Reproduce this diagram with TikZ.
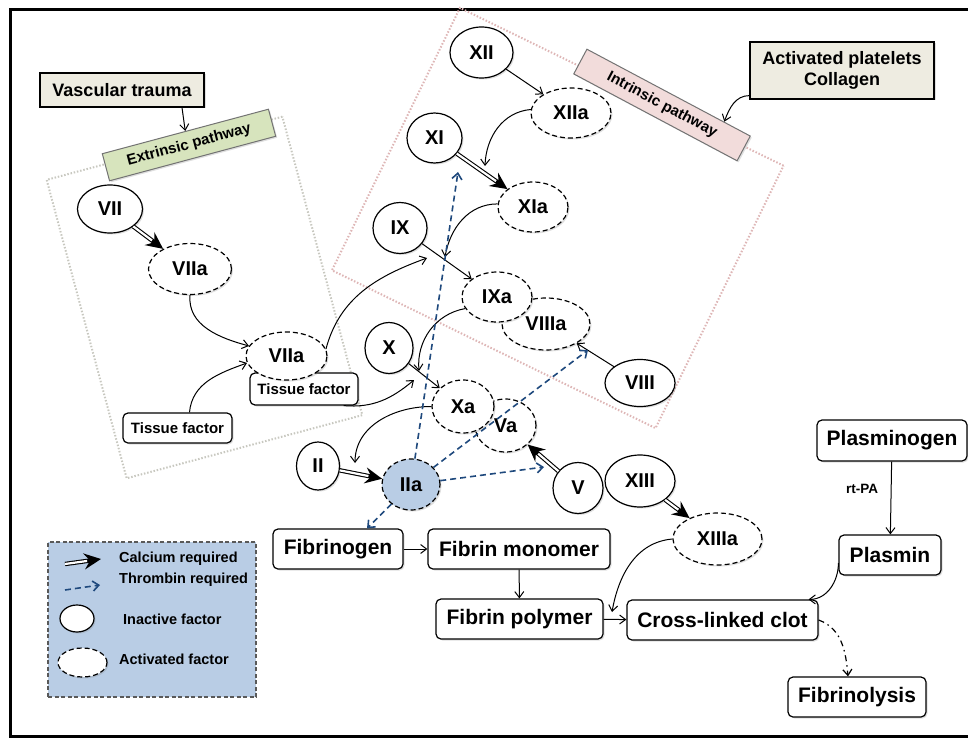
\documentclass[tikz,border=0pt]{standalone}
\usepackage{fontspec}
\setmainfont{Liberation Sans}
\usetikzlibrary{shapes.geometric,arrows.meta,shadows}

\definecolor{thblue}{RGB}{31,73,125}
\definecolor{lblue}{RGB}{185,205,229}
\definecolor{lgreen}{RGB}{215,228,189}
\definecolor{lpink}{RGB}{242,220,219}
\definecolor{lbeige}{RGB}{238,236,225}
\definecolor{dotgray}{RGB}{200,200,192}
\definecolor{dotpink}{RGB}{222,182,182}

\begin{document}
\begin{tikzpicture}[x=1pt, y=1pt,
		shad/.style={drop shadow={shadow xshift=1.5pt, shadow yshift=-1.5pt, opacity=0.25}},
		fac/.style={ellipse, draw, line width=1.2pt, fill=white, inner sep=0pt, shad,
			font=\fontsize{20}{22}\selectfont\bfseries},
		afac/.style={fac, dash pattern=on 5pt off 3pt},
		rbox/.style={rectangle, draw, line width=1.2pt, rounded corners=5pt, fill=white, inner sep=0pt, shad,
			font=\fontsize{21}{24}\selectfont\bfseries},
		sbox/.style={rbox, font=\fontsize{15}{17}\selectfont\bfseries},
		tbox/.style={rectangle, draw, line width=1.2pt, fill=lbeige, inner sep=0pt, align=center, shad,
			font=\fontsize{18}{21}\selectfont\bfseries},
		plab/.style={rectangle, draw=black!55, line width=1pt, inner sep=0pt, shad, minimum height=28pt,
			font=\fontsize{15}{17}\selectfont\bfseries},
		ltxt/.style={anchor=west, inner sep=0pt, font=\fontsize{14.5}{16}\selectfont\bfseries},
		act/.style={line width=1pt, -{Straight Barb[length=6pt, width=9pt]}},
		ca/.style={line width=4.4pt, -{Stealth[length=17pt, width=16pt, inset=6pt]},
			postaction={draw=white, line width=2.2pt, -, shorten >=14pt}},
		thr/.style={draw=thblue, line width=1.6pt, dash pattern=on 6pt off 4pt, -{Straight Barb[length=6pt, width=10pt]}},
		fib/.style={line width=1.2pt, dash pattern=on 6pt off 4pt on 1.5pt off 4pt, -{Straight Barb[length=6pt, width=9pt]}}
	]
		\clip (0,0) rectangle (968,-738);
		\draw[line width=3pt] (10,-10) rectangle (985,-736);

		% 枠
		\node[draw=dotgray, line width=2pt, dash pattern=on 1.5pt off 1.8pt, rotate=15,
			minimum width=244pt, minimum height=309pt] (extbox) at (204.5,-297.5) {};
		\node[draw=dotpink, line width=2pt, dash pattern=on 1.5pt off 1.8pt, rotate=-26,
			minimum width=360pt, minimum height=292pt] (intbox) at (557.75,-218) {};
		\node[plab, fill=lgreen, rotate=15, minimum width=172pt] (extl) at (189,-145) {Extrinsic pathway};
		\node[plab, fill=lpink, rotate=-28, minimum width=185pt] (intl) at (662,-105) {Intrinsic pathway};
		\node[tbox, minimum width=164pt, minimum height=34pt] (vt) at (122,-90) {Vascular trauma};
		\node[tbox, minimum width=184pt, minimum height=57pt] (ap) at (842,-70.5) {Activated platelets\\Collagen};

		% 因子
		\node[fac, minimum width=65pt, minimum height=48pt] (VII) at (110,-209) {VII};
		\node[afac, minimum width=83pt, minimum height=51pt] (VIIa1) at (190,-269) {VIIa};
		\node[sbox, minimum width=108pt, minimum height=32pt] (tf2) at (304,-389) {Tissue factor};
		\node[afac, minimum width=81pt, minimum height=48pt] (VIIa2) at (286.5,-356) {VIIa};
		\node[sbox, minimum width=109pt, minimum height=30pt] (tf1) at (177.5,-428) {Tissue factor};
		\node[fac, minimum width=63pt, minimum height=51pt] (XII) at (481.5,-52.5) {XII};
		\node[afac, minimum width=80pt, minimum height=50pt] (XIIa) at (571,-113) {XIIa};
		\node[fac, minimum width=55pt, minimum height=50pt] (XI) at (434.5,-138) {XI};
		\node[afac, minimum width=70pt, minimum height=50pt] (XIa) at (533,-207) {XIa};
		\node[fac, minimum width=54pt, minimum height=51pt] (IX) at (400,-228) {IX};
		\node[afac, minimum width=88pt, minimum height=52pt] (VIIIa) at (546,-324) {VIIIa};
		\node[afac, minimum width=70pt, minimum height=50pt] (IXa) at (497,-297) {IXa};
		\node[fac, minimum width=70pt, minimum height=47pt] (VIII) at (640,-383) {VIII};
		\node[fac, minimum width=48pt, minimum height=51pt] (X) at (389,-348) {X};
		\node[afac, minimum width=61pt, minimum height=53pt] (Va) at (505.5,-425.5) {Va};
		\node[afac, minimum width=62pt, minimum height=53pt] (Xa) at (463,-406.5) {Xa};
		\node[fac, minimum width=43pt, minimum height=48pt] (II) at (318,-466) {II};
		\node[afac, fill=lblue, minimum width=58pt, minimum height=51pt] (IIa) at (411,-484.5) {IIa};
		\node[fac, minimum width=50pt, minimum height=51pt] (V) at (578,-488) {V};
		\node[fac, minimum width=70pt, minimum height=52pt] (XIII) at (640,-481) {XIII};
		\node[afac, minimum width=89pt, minimum height=52pt] (XIIIa) at (717.5,-539) {XIIIa};

		% フィブリン
		\node[rbox, minimum width=130pt, minimum height=40pt] (fbg) at (338,-549) {Fibrinogen};
		\node[rbox, minimum width=182pt, minimum height=40pt] (fmo) at (519,-549) {Fibrin monomer};
		\node[rbox, minimum width=167pt, minimum height=40pt] (fpo) at (519.5,-619) {Fibrin polymer};
		\node[rbox, minimum width=191pt, minimum height=40pt] (clot) at (722.5,-620) {Cross-linked clot};
		\node[rbox, minimum width=150pt, minimum height=41pt] (pgn) at (892,-440.5) {Plasminogen};
		\node[rbox, minimum width=102pt, minimum height=40pt] (pls) at (890,-555) {Plasmin};
		\node[rbox, minimum width=138pt, minimum height=40pt] (fly) at (857,-697) {Fibrinolysis};
		\node[inner sep=0pt, font=\fontsize{13.5}{15}\selectfont\bfseries] (rtpa) at (862,-489) {rt-PA};

		% 凡例
		\node[draw=black!65, fill=lblue, line width=2pt, dash pattern=on 4pt off 2.5pt, inner sep=0pt,
			minimum width=208pt, minimum height=155pt] (leg) at (152,-619.5) {};
		\coordinate (ca1) at (65,-564);
		\coordinate (ca2) at (101,-559);
		\coordinate (th1) at (65,-590);
		\coordinate (th2) at (100,-585);
		\node[fac, minimum width=34pt, minimum height=27pt] (lfac) at (77,-618.5) {};
		\node[afac, minimum width=49pt, minimum height=29pt] (lafac) at (82.5,-662.5) {};
		\node[ltxt] (lca) at (119,-559) {Calcium required};
		\node[ltxt] (lth) at (119,-580) {Thrombin required};
		\node[ltxt] (lin) at (123,-619) {Inactive factor};
		\node[ltxt] (lac) at (119,-659) {Activated factor};
		\draw[ca] (ca1) -- (ca2);
		\draw[thr] (th1) -- (th2);

		% 線を引く
		\draw[act] ([xshift=60pt]vt.south) -- (extl.north);
		\draw[act] ([yshift=4pt]ap.south west) to[out=180, in=70] (intl.13);

		\coordinate (xiT) at (485,-166);
		\coordinate (ixT) at (445,-257);
		\coordinate (ixT2) at (427,-258);
		\coordinate (xT) at (419,-371);
		\coordinate (xT2) at (414,-380);
		\coordinate (iiT) at (355,-463);
		\coordinate (clT) at (612,-612);

		\draw[act] (XII) -- (XIIa);
		\draw[ca] (XI) -- (XIa);
		\draw[act] (XIIa.175) to[out=185, in=88] (xiT);
		\draw[act] (IX) -- (IXa);
		\draw[act] (XIa.175) to[out=180, in=80] (ixT);
		\draw[act] (VIIa2.10) to[out=75, in=200] (ixT2);
		\draw[act] (X) -- (Xa);
		\draw[act] (IXa.200) to[out=190, in=95] (xT);
		\draw[act] ([xshift=-15pt]tf2.south east) to[out=-5, in=220] (xT2);
		\draw[ca] (VII) -- (VIIa1);
		\draw[act] (VIIa1.south) to[out=-95, in=165] (VIIa2.165);
		\draw[act] ([xshift=12pt]tf1.north) to[out=85, in=200] (VIIa2.190);
		\draw[ca] (II) -- (IIa);
		\draw[act] (Xa.west) to[out=180, in=90] (iiT);
		\draw[ca] (V) -- (Va);
		\draw[act] (VIII) -- (VIIIa);
		\draw[ca] (XIII) -- (XIIIa);

		% トロンビン
		\coordinate (thXI) at (458,-172);
		\coordinate (thVIII) at (588,-350);
		\coordinate (thV) at (544,-467);
		\draw[thr] (IIa) -- (thXI);
		\draw[thr] (IIa) -- (thVIII);
		\draw[thr] (IIa) -- (thV);
		\draw[thr] (IIa) -- ([xshift=29pt]fbg.north);

		\draw[act] (fbg) -- (fmo);
		\draw[act] (fmo) -- (fpo);
		\draw[act] (fpo) -- (clot);
		\draw[act] (XIIIa.west) to[out=185, in=80] (clT);
		\draw[act] (pgn) -- (pls);
		\draw[act] ([yshift=-8pt]pls.west) to[out=-90, in=0] ([xshift=-10pt]clot.north east);
		\draw[fib] (clot.east) to[out=-20, in=95] ([xshift=-9pt]fly.north);
	\end{tikzpicture}
\end{document}
